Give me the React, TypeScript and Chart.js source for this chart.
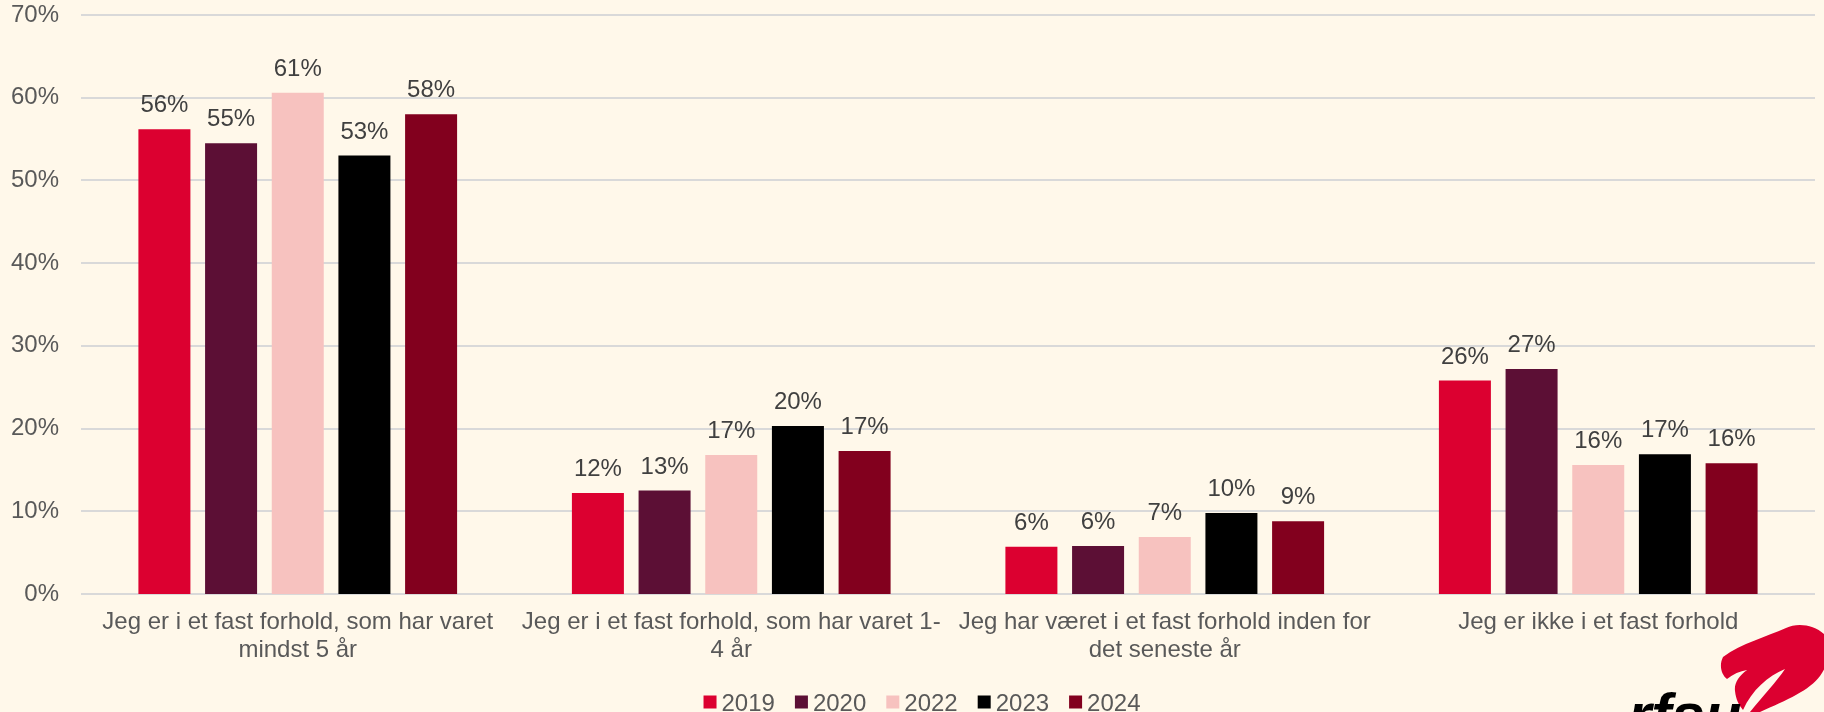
import { useEffect, useRef } from "react";
import { Chart, registerables } from "chart.js";

Chart.register(...registerables);

const categories: (string | string[])[] = [
  ["Jeg er i et fast forhold, som har varet", "mindst 5 år"],
  ["Jeg er i et fast forhold, som har varet 1-", "4 år"],
  ["Jeg har været i et fast forhold inden for", "det seneste år"],
  "Jeg er ikke i et fast forhold",
];
const years = ["2019", "2020", "2022", "2023", "2024"];
const v2019 = [56.2, 12.2, 5.7, 25.8];
const v2020 = [54.5, 12.5, 5.8, 27.2];
const v2022 = [60.6, 16.8, 6.9, 15.6];
const v2023 = [53.0, 20.3, 9.8, 16.9];
const v2024 = [58.0, 17.3, 8.8, 15.8];
const seriesValues = [v2019, v2020, v2022, v2023, v2024];
const seriesColors = ["#DC0030", "#5C0F35", "#F7C2BF", "#000000", "#82001E"];
const yMin = 0;
const yMax = 70;
const yStep = 10;

const FONT = "'Liberation Sans', Arial, Helvetica, sans-serif";
const BG = "#FFF8EA";

const backgroundPlugin = {
  id: "bg",
  beforeDraw(chart: any) {
    const { ctx, width, height } = chart;
    ctx.save();
    ctx.fillStyle = BG;
    ctx.fillRect(0, 0, width, height);
    ctx.restore();
  },
};

const gridPlugin = {
  id: "hGrid",
  beforeDatasetsDraw(chart: any) {
    const { ctx } = chart;
    const xs = chart.scales.x;
    const ys = chart.scales.y;
    const n = chart.data.labels.length;
    const c0 = xs.getPixelForValue(0);
    const c1 = xs.getPixelForValue(1);
    const cn = xs.getPixelForValue(n - 1);
    const half = (c1 - c0) / 2;
    const left = c0 - half;
    const right = cn + half;
    ctx.save();
    ctx.strokeStyle = "#D9D9D9";
    ctx.lineWidth = 2;
    ys.ticks.forEach((t: any) => {
      const y = Math.round(ys.getPixelForValue(t.value));
      ctx.beginPath();
      ctx.moveTo(left, y);
      ctx.lineTo(right, y);
      ctx.stroke();
    });
    ctx.restore();
  },
};

const valueLabelPlugin = {
  id: "valueLabels",
  afterDatasetsDraw(chart: any) {
    const { ctx } = chart;
    ctx.save();
    ctx.font = `24px ${FONT}`;
    ctx.fillStyle = "#404040";
    ctx.textAlign = "center";
    ctx.textBaseline = "alphabetic";
    chart.data.datasets.forEach((ds: any, i: number) => {
      const meta = chart.getDatasetMeta(i);
      meta.data.forEach((el: any, j: number) => {
        const v = ds.data[j];
        ctx.fillText(Math.round(v) + "%", el.x, el.y - 17);
      });
    });
    ctx.restore();
  },
};

const legendPlugin = {
  id: "customLegend",
  afterDraw(chart: any) {
    const { ctx } = chart;
    const box = 13;
    const gap = 5;
    const spacing = 20;
    ctx.save();
    ctx.font = `24px ${FONT}`;
    const items = chart.data.datasets.map((ds: any) => ({
      text: ds.label,
      color: ds.backgroundColor,
      w: ctx.measureText(ds.label).width,
    }));
    let total = 0;
    items.forEach((it: any, i: number) => {
      total += box + gap + it.w + (i < items.length - 1 ? spacing : 0);
    });
    let x = 922 - total / 2;
    const cy = 702;
    items.forEach((it: any) => {
      ctx.fillStyle = it.color;
      ctx.fillRect(x, cy - box / 2, box, box);
      ctx.fillStyle = "#595959";
      ctx.textAlign = "left";
      ctx.textBaseline = "alphabetic";
      ctx.fillText(it.text, x + box + gap, 710.5);
      x += box + gap + it.w + spacing;
    });
    ctx.restore();
  },
};

const logoPlugin = {
  id: "logo",
  afterDraw(chart: any) {
    const { ctx } = chart;
    ctx.save();
    ctx.fillStyle = "#DC0030";
    ctx.beginPath();
    ctx.moveTo(1743, 710);
    ctx.bezierCurveTo(1752, 690, 1768, 676, 1785, 669);
    ctx.bezierCurveTo(1777, 681, 1763, 696, 1750, 712);
    ctx.lineTo(1760, 712);
    ctx.bezierCurveTo(1787, 700, 1810, 690, 1820, 676);
    ctx.bezierCurveTo(1830, 662, 1832, 645, 1826, 636);
    ctx.bezierCurveTo(1816, 625, 1798, 622, 1786, 628);
    ctx.bezierCurveTo(1766, 637, 1742, 643, 1723, 657);
    ctx.bezierCurveTo(1719, 665, 1721, 674, 1727, 679);
    ctx.bezierCurveTo(1733, 674, 1740, 671, 1747, 670);
    ctx.bezierCurveTo(1739, 676, 1734, 683, 1735, 691);
    ctx.bezierCurveTo(1736, 700, 1739, 705, 1743, 710);
    ctx.closePath();
    ctx.fill();
    ctx.fillStyle = "#000000";
    ctx.font = `italic bold 60px ${FONT}`;
    ctx.textAlign = "left";
    ctx.textBaseline = "alphabetic";
    ctx.fillText("rfsu", 1628, 735);
    ctx.restore();
  },
};

export default function App() {
  const canvasRef = useRef<HTMLCanvasElement | null>(null);

  useEffect(() => {
    const canvas = canvasRef.current;
    if (!canvas) return;
    const chart = new Chart(canvas, {
      type: "bar",
      data: {
        labels: categories,
        datasets: years.map((y, i) => ({
          label: y,
          data: seriesValues[i],
          backgroundColor: seriesColors[i],
          borderWidth: 0,
          categoryPercentage: 0.769,
          barPercentage: 0.78,
        })),
      },
      options: {
        responsive: false,
        animation: false,
        devicePixelRatio: 1,
        layout: { padding: { left: 0, right: 9, top: 15, bottom: 35 } },
        plugins: {
          legend: { display: false },
          tooltip: { enabled: false },
        },
        scales: {
          x: {
            grid: { display: false, drawTicks: false },
            border: { display: false },
            ticks: {
              color: "#595959",
              padding: 15,
              maxRotation: 0,
              autoSkip: false,
              font: { family: FONT, size: 24, lineHeight: 1.15 },
            },
            afterFit(scale: any) {
              scale.height = 83;
            },
          },
          y: {
            min: yMin,
            max: yMax,
            grid: { display: false, drawTicks: false },
            border: { display: false },
            ticks: {
              stepSize: yStep,
              padding: 22,
              color: "#595959",
              font: { family: FONT, size: 24 },
              callback: (v: any) => v + "%",
            },
            afterFit(scale: any) {
              scale.width = 81;
              scale.paddingTop = 14;
              scale.paddingBottom = 14;
            },
          },
        },
      },
      plugins: [backgroundPlugin, gridPlugin, valueLabelPlugin, legendPlugin, logoPlugin],
    });
    return () => chart.destroy();
  }, []);

  return (
    <div style={{ position: "fixed", left: 0, top: 0, width: 1824, height: 712, background: BG, overflow: "hidden" }}>
      <canvas ref={canvasRef} width={1824} height={712} style={{ display: "block", width: 1824, height: 712 }} />
    </div>
  );
}
